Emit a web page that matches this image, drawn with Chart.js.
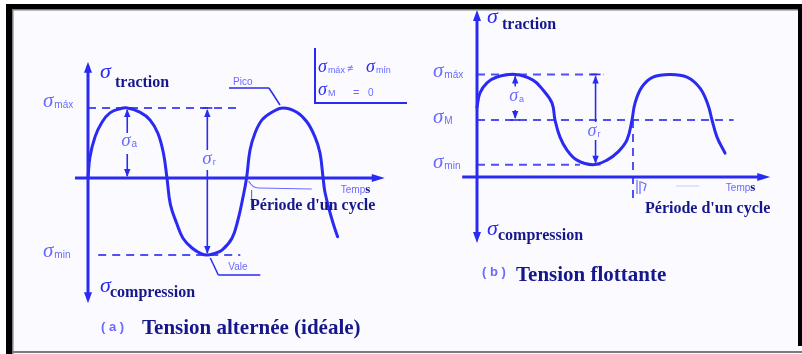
<!DOCTYPE html>
<html lang="fr">
<head>
<meta charset="utf-8">
<title>Tension alternée / Tension flottante</title>
<script src="https://cdn.jsdelivr.net/npm/chart.js@4.4.1/dist/chart.umd.min.js"></script>
<style>
  html, body { margin: 0; padding: 0; background: #ffffff; }
  #wrap { position: relative; width: 802px; height: 354px; overflow: hidden; }
  canvas { position: absolute; left: 0; top: 0; }
</style>
</head>
<body>
<div id="wrap"><canvas id="chart" width="802" height="354"></canvas></div>
<script>
// ---- (a) Tension alternée : time (one cycle = 2 units) and stress samples ----
const timeA   = [0, 0.025, 0.09, 0.18, 0.28, 0.41, 0.50, 0.66, 0.79, 0.89, 0.96, 1.006, 1.05, 1.134, 1.21, 1.325, 1.44, 1.52, 1.60, 1.707, 1.834, 1.91, 1.975, 2.02, 2.064, 2.127, 2.217, 2.344, 2.484, 2.66, 2.79, 2.89, 2.955, 2.994, 3.02, 3.11, 3.18];
const stressA = [0, 0.30, 0.59, 0.80, 0.93, 0.99, 1.00, 0.94, 0.83, 0.64, 0.36, 0.00, -0.38, -0.66, -0.86, -1.00, -1.08, -1.10, -1.08, -1.03, -0.86, -0.60, -0.27, 0.00, 0.40, 0.64, 0.83, 0.94, 1.00, 0.94, 0.80, 0.59, 0.36, 0.01, -0.21, -0.60, -0.84];
const levelNamesA  = ['máx', 'min'];
const levelValuesA = [1.00, -1.10];

// ---- (b) Tension flottante ----
const timeB   = [0, 0.038, 0.128, 0.256, 0.49, 0.718, 0.846, 0.962, 1.0, 1.064, 1.154, 1.282, 1.487, 1.667, 1.808, 1.923, 1.987, 2.026, 2.115, 2.256, 2.474, 2.692, 2.859, 2.962, 3.013, 3.077, 3.18];
const stressB = [3.68, 4.42, 4.95, 5.26, 5.40, 5.10, 4.58, 3.89, 3.00, 2.10, 1.42, 0.89, 0.65, 0.89, 1.32, 1.95, 3.00, 3.89, 4.74, 5.26, 5.40, 5.26, 4.68, 3.79, 3.00, 2.10, 1.26];
const levelNamesB  = ['máx', 'M', 'min'];
const levelValuesB = [5.40, 3.00, 0.65];

// ---- texts ----
const titleA = 'Tension alternée (idéale)';
const titleB = 'Tension flottante';
const periodText = "Période d'un cycle";
const axisUp = 'traction';
const axisDown = 'compression';
const timeWord = 'Temp';

// ---- styling ----
const INK = '#2a2af2';
const DASH = '#5050f6';
const LIGHT = '#6a6aff';
const DARK = '#17178c';
const SERIF = '"Liberation Serif", "DejaVu Serif", serif';
const SANS = '"Liberation Sans", "DejaVu Sans", sans-serif';

const W = 802, H = 354;
// linear range so that value 0 lands on originPx and one unit spans unitPx
function rangeX(originPx, unitPx) { return { min: -originPx / unitPx, max: (W - originPx) / unitPx }; }
function rangeY(originPx, unitPx) { return { min: (originPx - H) / unitPx, max: originPx / unitPx }; }

const pts = (xs, ys) => xs.map((x, i) => ({ x, y: ys[i] }));
const seg = (x0, x1, y) => [{ x: x0, y }, { x: x1, y }];

const curveStyle = { showLine: true, pointRadius: 0, borderColor: INK, borderWidth: 3, tension: 0.4, fill: false, borderJoinStyle: 'round', borderCapStyle: 'round' };
const dashStyle  = { showLine: true, pointRadius: 0, borderColor: DASH, borderWidth: 2, borderDash: [8, 6], fill: false };

const datasets = [
  Object.assign({ label: 'a', xAxisID: 'xA', yAxisID: 'yA', data: pts(timeA, stressA) }, curveStyle),
  Object.assign({ label: 'a-max', xAxisID: 'xA', yAxisID: 'yA', data: seg(0, 1.94, levelValuesA[0]) }, dashStyle),
  Object.assign({ label: 'a-min', xAxisID: 'xA', yAxisID: 'yA', data: seg(0.13, 1.94, levelValuesA[1]) }, dashStyle),
  Object.assign({ label: 'b', xAxisID: 'xB', yAxisID: 'yB', data: pts(timeB, stressB) }, curveStyle),
  Object.assign({ label: 'b-max', xAxisID: 'xB', yAxisID: 'yB', data: seg(0, 1.62, levelValuesB[0]) }, dashStyle),
  Object.assign({ label: 'b-mean', xAxisID: 'xB', yAxisID: 'yB', data: seg(0, 3.29, levelValuesB[1]) }, dashStyle),
  Object.assign({ label: 'b-min', xAxisID: 'xB', yAxisID: 'yB', data: seg(0, 1.32, levelValuesB[2]) }, dashStyle),
  Object.assign({ label: 'b-period', xAxisID: 'xB', yAxisID: 'yB', data: [{ x: 2.0, y: levelValuesB[1] }, { x: 2.0, y: -1.2 }] }, dashStyle)
];

// ---- drawing helpers ----
function head(ctx, x, y, dir, len, half) {
  ctx.beginPath();
  if (dir === 'up')        { ctx.moveTo(x, y); ctx.lineTo(x - half, y + len); ctx.lineTo(x + half, y + len); }
  else if (dir === 'down') { ctx.moveTo(x, y); ctx.lineTo(x - half, y - len); ctx.lineTo(x + half, y - len); }
  else                     { ctx.moveTo(x, y); ctx.lineTo(x - len, y - half); ctx.lineTo(x - len, y + half); }
  ctx.closePath();
  ctx.fill();
}
function line(ctx, x0, y0, x1, y1, w, color) {
  ctx.save(); ctx.strokeStyle = color; ctx.lineWidth = w;
  ctx.beginPath(); ctx.moveTo(x0, y0); ctx.lineTo(x1, y1); ctx.stroke(); ctx.restore();
}
function text(ctx, s, x, y, font, color) {
  ctx.save(); ctx.font = font; ctx.fillStyle = color; ctx.textBaseline = 'alphabetic'; ctx.textAlign = 'left';
  ctx.fillText(s, x, y); ctx.restore();
  ctx.font = font; return ctx.measureText(s).width;
}
function sigma(ctx, x, y, sub, size, color, subFont, subColor, subDy) {
  const w = text(ctx, 'σ', x, y, 'italic ' + size + 'px ' + SERIF, color);
  if (sub) text(ctx, sub, x + w + 1, y + (subDy || 2), subFont, subColor || color);
}
// two-headed dimension arrow with a gap for its label
function dim(ctx, x, yTop, yBot, gapTop, gapBot) {
  ctx.save(); ctx.fillStyle = INK;
  line(ctx, x, yTop + 2, x, gapTop, 1.6, INK);
  line(ctx, x, gapBot, x, yBot - 2, 1.6, INK);
  head(ctx, x, yTop + 1, 'up', 8, 3.2);
  head(ctx, x, yBot - 1, 'down', 8, 3.2);
  line(ctx, x - 5, yTop, x + 5, yTop, 1.6, INK);
  line(ctx, x - 5, yBot, x + 5, yBot, 1.6, INK);
  ctx.restore();
}

const diagram = {
  id: 'diagram',
  beforeDraw(chart) {
    const ctx = chart.ctx;
    ctx.save();
    ctx.fillStyle = '#fbfbff'; ctx.fillRect(0, 0, W, H);
    ctx.restore();
  },
  afterDatasetsDraw(chart) {
    const ctx = chart.ctx, s = chart.scales;
    const ax = v => s.xA.getPixelForValue(v), ay = v => s.yA.getPixelForValue(v);
    const bx = v => s.xB.getPixelForValue(v), by = v => s.yB.getPixelForValue(v);
    ctx.save();
    ctx.fillStyle = INK;

    // ================= panel (a) =================
    const a0x = ax(0), a0y = ay(0);
    line(ctx, a0x, ay(1.66) + 8, a0x, ay(-1.79) - 8, 3, INK);
    head(ctx, a0x, ay(1.66), 'up', 11, 4);
    head(ctx, a0x, ay(-1.79), 'down', 11, 4);
    line(ctx, ax(-0.166), a0y, ax(3.78) - 10, a0y, 3, INK);
    head(ctx, ax(3.78), a0y, 'right', 13, 4);

    // axis names
    sigma(ctx, a0x + 12, ay(1.66) + 16, null, 22, INK);
    text(ctx, axisUp, a0x + 27, ay(1.66) + 25, 'bold 16px ' + SERIF, DARK);
    sigma(ctx, a0x + 12, ay(-1.79) - 11, null, 22, INK);
    text(ctx, axisDown, a0x + 22, ay(-1.79) - 6, 'bold 16px ' + SERIF, DARK);

    // level labels
    levelValuesA.forEach((v, i) => {
      sigma(ctx, a0x - 45, ay(v) + (i === 0 ? -1 : 2), levelNamesA[i], 21, LIGHT, '10px ' + SANS, LIGHT, 1);
    });

    // amplitude and range
    const pk = ax(0.50);
    dim(ctx, pk, ay(levelValuesA[0]), a0y, ay(levelValuesA[0]) + 25, a0y - 24);
    sigma(ctx, pk - 6, a0y - 32, 'a', 19, LIGHT, '10px ' + SANS, LIGHT, 1);
    const tr = ax(1.52);
    dim(ctx, tr, ay(levelValuesA[0]), ay(levelValuesA[1]), a0y - 28, a0y - 8);
    sigma(ctx, tr - 5, a0y - 14, 'r', 19, LIGHT, '9px ' + SANS, LIGHT, 1);

    // Pico / Vale callouts
    const pkB = ax(2.484), pkY = ay(levelValuesA[0]);
    line(ctx, pkB - 54, pkY - 20, pkB - 14, pkY - 20, 1.5, INK);
    line(ctx, pkB - 14, pkY - 20, pkB - 3, pkY - 3, 1.5, INK);
    text(ctx, 'Pico', pkB - 50, pkY - 23, '10px ' + SANS, LIGHT);
    const vX = ax(1.52), vY = ay(levelValuesA[1]);
    line(ctx, vX + 3, vY + 3, vX + 11, vY + 20, 1.5, INK);
    line(ctx, vX + 11, vY + 20, vX + 53, vY + 20, 1.5, INK);
    text(ctx, 'Vale', vX + 21, vY + 15, '10px ' + SANS, LIGHT);

    // time axis caption and period note
    const tw = text(ctx, timeWord, ax(3.22), a0y + 15, '10px ' + SANS, LIGHT);
    text(ctx, 's', ax(3.22) + tw, a0y + 15, 'bold 13px ' + SERIF, DARK);
    ctx.save(); ctx.strokeStyle = LIGHT; ctx.lineWidth = 1.2;
    ctx.beginPath(); ctx.moveTo(ax(2.02) + 2, a0y + 3); ctx.quadraticCurveTo(ax(2.02) + 6, a0y + 10, ax(2.02) + 12, a0y + 10);
    ctx.lineTo(ax(2.85), a0y + 11); ctx.stroke();
    ctx.beginPath(); ctx.moveTo(ax(2.02) + 5, a0y + 12); ctx.lineTo(ax(2.02) + 5, a0y + 30); ctx.stroke();
    ctx.restore();
    text(ctx, periodText, ax(2.0) + 5, a0y + 32, 'bold 16px ' + SERIF, DARK);

    // condition box
    line(ctx, 315, 48, 315, 103, 2, INK);
    line(ctx, 314, 103, 407, 103, 2, INK);
    sigma(ctx, 318, 72, 'máx', 18, INK, '9px ' + SANS, LIGHT, 1);
    text(ctx, '≠', 347, 72, '11px ' + SANS, LIGHT);
    sigma(ctx, 366, 72, 'mín', 18, INK, '9px ' + SANS, LIGHT, 1);
    sigma(ctx, 318, 95, 'M', 18, INK, '9px ' + SANS, LIGHT, 1);
    text(ctx, '=', 353, 96, '11px ' + SANS, LIGHT);
    text(ctx, '0', 368, 96, '10px ' + SANS, LIGHT);

    // caption
    text(ctx, '( a )', 101, 331, 'bold 13px ' + SANS, LIGHT);
    text(ctx, titleA, 142, 334, 'bold 21px ' + SERIF, DARK);

    // ================= panel (b) =================
    const b0x = bx(0), b0y = by(0);
    line(ctx, b0x, by(8.79) + 8, b0x, by(-3.47) - 8, 3, INK);
    head(ctx, b0x, by(8.79), 'up', 11, 4);
    head(ctx, b0x, by(-3.47), 'down', 11, 4);
    line(ctx, bx(-0.19), b0y, bx(3.76) - 10, b0y, 3, INK);
    head(ctx, bx(3.76), b0y, 'right', 13, 4);

    sigma(ctx, b0x + 10, by(8.79) + 13, null, 22, INK);
    text(ctx, axisUp, b0x + 25, by(8.79) + 19, 'bold 16px ' + SERIF, DARK);
    sigma(ctx, b0x + 10, by(-3.47) - 8, null, 22, INK);
    text(ctx, axisDown, b0x + 21, by(-3.47) - 3, 'bold 16px ' + SERIF, DARK);

    levelValuesB.forEach((v, i) => {
      sigma(ctx, b0x - 44, by(v) + 3, levelNamesB[i], 21, LIGHT, '10px ' + SANS, LIGHT, 1);
    });

    const pb = bx(0.49);
    dim(ctx, pb, by(levelValuesB[0]), by(levelValuesB[1]), by(levelValuesB[0]) + 12, by(levelValuesB[1]) - 10);
    sigma(ctx, pb - 6, by(levelValuesB[1]) - 19, 'a', 18, LIGHT, '9px ' + SANS, LIGHT, 1);
    const rb = bx(1.52);
    dim(ctx, rb, by(levelValuesB[0]), by(levelValuesB[2]), by(levelValuesB[1]) + 2, by(levelValuesB[1]) + 20);
    sigma(ctx, rb - 8, by(levelValuesB[1]) + 16, 'r', 18, LIGHT, '9px ' + SANS, LIGHT, 1);

    const tw2 = text(ctx, timeWord, bx(3.19), b0y + 14, '10px ' + SANS, LIGHT);
    text(ctx, 's', bx(3.19) + tw2, b0y + 14, 'bold 13px ' + SERIF, DARK);
    ctx.save(); ctx.strokeStyle = LIGHT; ctx.lineWidth = 1.2;
    ctx.beginPath(); ctx.moveTo(bx(2.0) + 4, b0y + 3); ctx.lineTo(bx(2.0) + 4, b0y + 17); ctx.stroke();
    ctx.beginPath(); ctx.moveTo(bx(2.0) + 7, b0y + 4); ctx.lineTo(bx(2.0) + 7, b0y + 17); ctx.stroke();
    ctx.beginPath(); ctx.moveTo(bx(2.0) + 8, b0y + 5); ctx.lineTo(bx(2.0) + 13, b0y + 7); ctx.lineTo(bx(2.0) + 11, b0y + 14); ctx.stroke();
    ctx.strokeStyle = '#d6d6ee';
    ctx.beginPath(); ctx.moveTo(bx(2.55), b0y + 9); ctx.lineTo(bx(2.85), b0y + 9); ctx.stroke();
    ctx.restore();
    text(ctx, periodText, bx(2.0) + 12, b0y + 36, 'bold 16px ' + SERIF, DARK);

    text(ctx, '( b )', 482, 276, 'bold 13px ' + SANS, LIGHT);
    text(ctx, titleB, 516, 281, 'bold 21px ' + SERIF, DARK);

    ctx.restore();
  },
  afterDraw(chart) {
    const ctx = chart.ctx;
    ctx.save();
    ctx.fillStyle = '#ffffff';
    ctx.fillRect(0, 0, W, 4); ctx.fillRect(0, 0, 6, H);
    ctx.fillStyle = '#000000';
    ctx.fillRect(6, 4, W - 6, 5);
    ctx.fillRect(6, 4, 6, H - 4);
    ctx.fillRect(798, 4, 4, 342);
    ctx.fillStyle = '#7a7a80';
    ctx.fillRect(12, 9, W - 16, 1.5);
    ctx.fillRect(12, 9, 1.5, H - 9);
    ctx.fillRect(12, 351, W - 12, 2);
    ctx.restore();
  }
};

const rAx = rangeX(88, 78.5), rAy = rangeY(178, 70);
const rBx = rangeX(477, 78),  rBy = rangeY(177, 19);

new Chart(document.getElementById('chart'), {
  type: 'scatter',
  data: { datasets },
  options: {
    responsive: false,
    animation: false,
    events: [],
    layout: { padding: 0 },
    plugins: { legend: { display: false }, tooltip: { enabled: false } },
    scales: {
      xA: { type: 'linear', axis: 'x', display: false, min: rAx.min, max: rAx.max },
      yA: { type: 'linear', axis: 'y', display: false, min: rAy.min, max: rAy.max },
      xB: { type: 'linear', axis: 'x', display: false, min: rBx.min, max: rBx.max },
      yB: { type: 'linear', axis: 'y', display: false, min: rBy.min, max: rBy.max }
    }
  },
  plugins: [diagram]
});
</script>
</body>
</html>
